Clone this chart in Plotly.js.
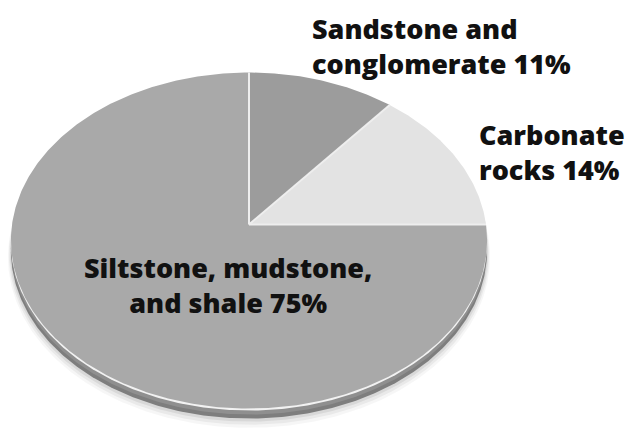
<!DOCTYPE html>
<html>
<head>
<meta charset="utf-8">
<script src="https://cdn.plot.ly/plotly-3.0.1.min.js"></script>
<style>
  html, body { margin: 0; padding: 0; background: #ffffff; }
  #chart { width: 626px; height: 428px; }
</style>
</head>
<body>
<div id="chart"></div>
<script>
// Sedimentary rock types, listed clockwise from 12 o'clock
const categories = ["Sandstone and conglomerate", "Carbonate rocks", "Siltstone, mudstone, and shale"];
const shares = [11, 14, 75];
// Each label is set on two lines; the share is appended to the second line
const labelLines = [
  ["Sandstone and", "conglomerate"],
  ["Carbonate", "rocks"],
  ["Siltstone, mudstone,", "and shale"]
];
const sliceColors = ["#9c9c9c", "#e3e3e3", "#a9a9a9"];

// Tilted disc drawn in pixel units on hidden axes
const GEO = { cx: 249, cy: 224.5, ax: 237, by: 166.5, persp: 0.0953, depth: 10 };
// Where each label block sits (text anchor, x, top of block)
const LABEL_POS = [
  { anchor: "left",   x: 310,   y: 7.6 },
  { anchor: "left",   x: 477,   y: 114.4 },
  { anchor: "center", x: 227.5, y: 247.0 }
];

// Perspective projection of a point on the disc rim at angle theta (clockwise from top)
function proj(theta, dy, grow) {
  dy = dy || 0; grow = grow || 0;
  const c = Math.cos(theta), s = Math.sin(theta), w = 1 + GEO.persp * c;
  return [GEO.cx + (GEO.ax + grow) * s / w, GEO.cy - (GEO.by + grow) * c / w + dy];
}
function arcPoints(t0, t1, dy, grow) {
  const n = Math.max(8, Math.ceil(Math.abs(t1 - t0) / 0.01));
  const xs = [], ys = [];
  for (let i = 0; i <= n; i++) {
    const p = proj(t0 + (t1 - t0) * i / n, dy, grow);
    xs.push(p[0]); ys.push(p[1]);
  }
  return { xs, ys };
}
function outlineTrace(dy, grow, color) {
  const a = arcPoints(0, 2 * Math.PI, dy, grow);
  return { x: a.xs, y: a.ys, type: "scatter", mode: "lines", fill: "toself",
           fillcolor: color, line: { width: 0 }, hoverinfo: "skip", showlegend: false };
}

const traces = [];
// soft drop shadow under the disc
traces.push(outlineTrace(GEO.depth + 6, 3, "rgba(0,0,0,0.035)"));
traces.push(outlineTrace(GEO.depth + 4, 2, "rgba(0,0,0,0.05)"));
traces.push(outlineTrace(GEO.depth + 2, 1, "rgba(0,0,0,0.07)"));
// side of the disc
traces.push(outlineTrace(GEO.depth, 0, "#7e7e7e"));
traces.push(outlineTrace(GEO.depth - 4, 0, "#8f8f8f"));
// light bevel along the front edge of the top face
traces.push(outlineTrace(2, 0, "#f2f2f2"));

// slices of the top face
const total = shares.reduce((a, b) => a + b, 0);
const bounds = [0];
shares.forEach((v, i) => bounds.push(bounds[i] + v / total * 2 * Math.PI));
shares.forEach((v, i) => {
  const a = arcPoints(bounds[i], bounds[i + 1], 0, 0);
  traces.push({
    x: [GEO.cx].concat(a.xs, [GEO.cx]),
    y: [GEO.cy].concat(a.ys, [GEO.cy]),
    type: "scatter", mode: "lines", fill: "toself",
    fillcolor: sliceColors[i], line: { width: 0 },
    name: categories[i], hoverinfo: "skip", showlegend: false
  });
});
// pale dividing lines from the centre to each slice boundary
bounds.slice(0, shares.length).forEach(t => {
  const p = proj(t, 0, 0);
  traces.push({ x: [GEO.cx, p[0]], y: [GEO.cy, p[1]], type: "scatter", mode: "lines",
                line: { color: "#eeeeee", width: 2 }, hoverinfo: "skip", showlegend: false });
});

// labels: name on two lines, share appended to the last line
const annotations = labelLines.map((lines, i) => {
  const pos = LABEL_POS[i];
  const body = lines.slice(0, -1).concat([lines[lines.length - 1] + " " + shares[i] + "%"]);
  return {
    x: pos.x, y: pos.y, xref: "x", yref: "y", text: body.join("<br>"), showarrow: false,
    xanchor: pos.anchor, yanchor: "top", align: pos.anchor,
    font: { family: "Open Sans", size: 27, weight: 800, color: "#111111" }
  };
});

const layout = {
  width: 626, height: 428,
  margin: { l: 0, r: 0, t: 0, b: 0, pad: 0 },
  paper_bgcolor: "#ffffff", plot_bgcolor: "#ffffff",
  xaxis: { range: [0, 626], visible: false, fixedrange: true },
  yaxis: { range: [428, 0], visible: false, fixedrange: true },
  annotations: annotations,
  showlegend: false,
  hovermode: false
};

Plotly.newPlot("chart", traces, layout, { staticPlot: true, displayModeBar: false });
</script>
</body>
</html>
